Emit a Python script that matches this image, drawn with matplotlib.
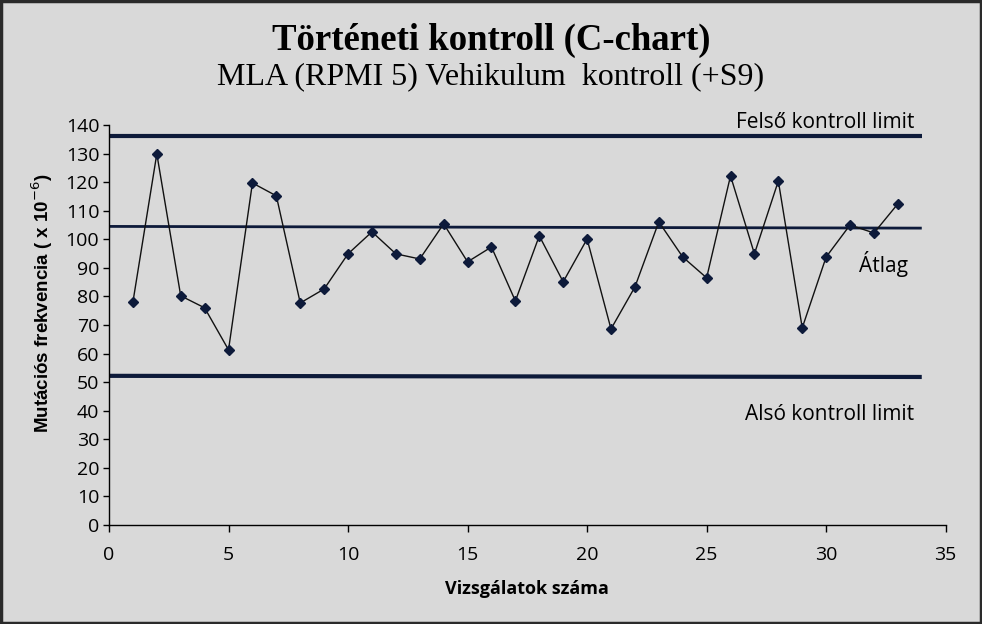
import matplotlib
matplotlib.use("Agg")
import matplotlib.pyplot as plt

# data
runs = list(range(1, 34))
values = [78.0, 129.9, 80.2, 76.0, 61.3, 119.7, 115.2, 77.7, 82.6, 94.9,
          102.6, 94.9, 93.1, 105.4, 92.1, 97.3, 78.4, 101.2, 85.1, 100.1,
          68.6, 83.3, 106.1, 93.8, 86.5, 122.2, 94.9, 120.4, 69.0, 93.8,
          105.0, 102.2, 112.4]
ucl = 136.2
mean = 104.5
lcl = 52.2
limit_x = [0, 34]
xticks = [0, 5, 10, 15, 20, 25, 30, 35]
yticks = list(range(0, 141, 10))

bg = "#d9d9d9"
navy = "#0d1a3a"
narrow = "Open Sans"

fig = plt.figure(figsize=(9.82, 6.24), dpi=100, facecolor=bg)
ax = fig.add_axes([0.111, 0.1587, 0.852, 0.641])
ax.set_facecolor(bg)

ax.plot(limit_x, [ucl, ucl], color=navy, lw=3.0, solid_capstyle="butt")
ax.plot(limit_x, [mean, mean - 0.6], color=navy, lw=2.0, solid_capstyle="butt")
ax.plot(limit_x, [lcl, lcl - 0.4], color=navy, lw=3.0, solid_capstyle="butt")
ax.plot(runs, values, color="#111111", lw=1.0, marker="D", markersize=5,
        markerfacecolor=navy, markeredgecolor=navy)

ax.set_xlim(0, 35)
ax.set_ylim(0, 140)
ax.set_xticks(xticks)
ax.set_yticks(yticks)
for s in ["top", "right"]:
    ax.spines[s].set_visible(False)
for s in ["left", "bottom"]:
    ax.spines[s].set_color("#000000")
    ax.spines[s].set_linewidth(1.0)
ax.tick_params(axis="x", direction="out", length=5, width=1, pad=10,
               labelsize=14)
ax.tick_params(axis="y", direction="out", length=4, width=1, pad=3,
               labelsize=14)
for lab in ax.get_xticklabels() + ax.get_yticklabels():
    lab.set_family(narrow)

ax.set_xlabel("Vizsgálatok száma", fontsize=13, fontweight="bold",
              family=narrow, labelpad=12)
ax.set_ylabel("Mutációs frekvencia ( x 10$^{-6}$)", fontsize=13.5,
              fontweight="bold", family="Liberation Sans", labelpad=8,
              y=0.555)

ax.text(29.95, ucl + 4.5, "Felső kontroll limit", fontsize=15, family=narrow,
        ha="center", va="center")
ax.text(32.4, 91.5, "Átlag", fontsize=15, family=narrow, ha="center",
        va="center")
ax.text(30.15, 38.5, "Alsó kontroll limit", fontsize=15, family=narrow,
        ha="center", va="center")

fig.text(0.5, 0.935, "Történeti kontroll (C-chart)", fontsize=26.5,
         fontweight="bold", family="Liberation Serif", ha="center",
         va="center")
fig.text(0.5, 0.877, "MLA (RPMI 5) Vehikulum  kontroll (+S9)", fontsize=23,
         family="Liberation Serif", ha="center", va="center")

border = plt.Rectangle((0.001, 0.002), 0.998, 0.996, transform=fig.transFigure,
                       fill=False, edgecolor="#2a2a2a", lw=2.5)
fig.add_artist(border)

fig.savefig("out.png", dpi=100, facecolor=bg)
